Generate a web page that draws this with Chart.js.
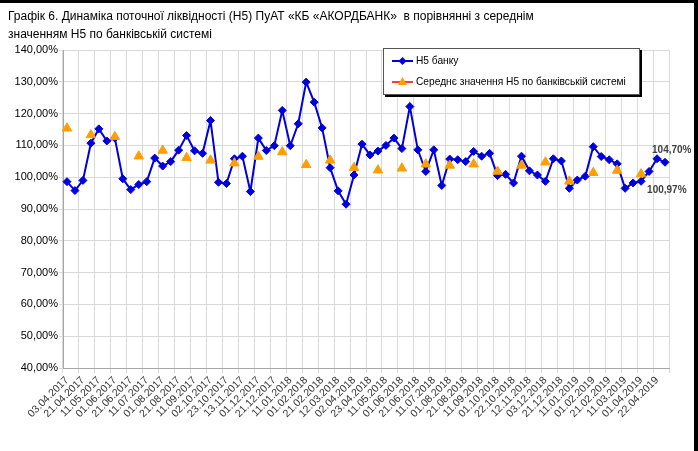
<!DOCTYPE html>
<html>
<head>
<meta charset="utf-8">
<script src="https://cdn.jsdelivr.net/npm/chart.js@4/dist/chart.umd.min.js"></script>
<style>
html, body { margin: 0; padding: 0; background: #fff; }
#grafica { display: block; }
</style>
</head>
<body>
<canvas id="grafica" width="698" height="451"></canvas>
<script>
// datos
var titulo = [
    'Графік 6. Динаміка поточної ліквідності (Н5) ПуАТ «КБ «АКОРДБАНК»  в порівнянні з середнім',
    'значенням Н5 по банківській системі'
]

var fechas = [
    '03.04.2017', '11.04.2017', '21.04.2017', '02.05.2017', '11.05.2017', '22.05.2017',
    '01.06.2017', '12.06.2017', '21.06.2017', '03.07.2017', '11.07.2017', '21.07.2017',
    '01.08.2017', '11.08.2017', '21.08.2017', '01.09.2017', '11.09.2017', '21.09.2017',
    '02.10.2017', '11.10.2017', '23.10.2017', '01.11.2017', '13.11.2017', '21.11.2017',
    '01.12.2017', '11.12.2017', '21.12.2017', '02.01.2018', '11.01.2018', '22.01.2018',
    '01.02.2018', '12.02.2018', '21.02.2018', '01.03.2018', '12.03.2018', '21.03.2018',
    '02.04.2018', '11.04.2018', '23.04.2018', '02.05.2018', '11.05.2018', '21.05.2018',
    '01.06.2018', '11.06.2018', '21.06.2018', '02.07.2018', '11.07.2018', '23.07.2018',
    '01.08.2018', '13.08.2018', '21.08.2018', '03.09.2018', '11.09.2018', '21.09.2018',
    '01.10.2018', '11.10.2018', '22.10.2018', '01.11.2018', '12.11.2018', '21.11.2018',
    '03.12.2018', '11.12.2018', '21.12.2018', '02.01.2019', '11.01.2019', '21.01.2019',
    '01.02.2019', '11.02.2019', '21.02.2019', '01.03.2019', '11.03.2019', '21.03.2019',
    '01.04.2019', '11.04.2019', '22.04.2019', '02.05.2019'
]

var h5Banku = [
    98.6, 95.8, 99.0, 110.7, 115.2, 111.4, 112.3, 99.5, 96.1, 97.7,
    98.6, 106.0, 103.5, 104.9, 108.5, 113.1, 108.3, 107.5, 117.8, 98.4,
    98.0, 105.8, 106.6, 95.5, 112.3, 108.4, 109.9, 121.0, 109.9, 116.8,
    129.9, 123.6, 115.5, 103.0, 95.7, 91.5, 100.7, 110.4, 107.0, 108.2,
    110.0, 112.3, 109.0, 122.2, 108.6, 101.8, 108.6, 97.4, 105.7, 105.5,
    104.9, 108.1, 106.6, 107.5, 100.5, 100.9, 98.2, 106.6, 102.0, 100.7,
    98.7, 105.8, 105.1, 96.5, 99.1, 100.3, 109.6, 106.5, 105.5, 104.2,
    96.5, 98.2, 98.7, 101.8, 105.8, 104.7
]

var fechasSeredni = [
    '03.04.2017', '02.05.2017', '01.06.2017', '03.07.2017', '01.08.2017', '01.09.2017',
    '02.10.2017', '01.11.2017', '01.12.2017', '02.01.2018', '01.02.2018', '01.03.2018',
    '02.04.2018', '02.05.2018', '01.06.2018', '02.07.2018', '01.08.2018', '03.09.2018',
    '01.10.2018', '01.11.2018', '03.12.2018', '02.01.2019', '01.02.2019', '01.03.2019',
    '01.04.2019'
]

var seredniH5 = [
    115.4, 113.3, 112.7, 106.6, 108.4, 106.1, 105.3, 104.4, 106.5, 107.9,
    103.9, 105.3, 103.0, 102.2, 102.8, 104.1, 103.7, 104.1, 101.8, 103.7,
    104.7, 98.7, 101.4, 102.1, 100.97
]

var nombres = ['Н5 банку', 'Середнє значення Н5 по банківській системі']

var yMin = 40
var yMax = 140
var yPaso = 10

var fuente = "'Liberation Sans', Arial, sans-serif"
var azul = '#0000dc'
var naranja = '#ff9e00'
var rojo = '#ff3b3b'

function formatoPct(v){
    return v.toFixed(2).replace('.', ',') + '%'
}

// puntos del promedio por fecha
var puntosSeredni = fechasSeredni.map(function(f, i){
    return { x: f, y: seredniH5[i] }
})

var pluginTitulo = {
    id: 'titulo',
    afterDraw: function(chart){
        var c = chart.ctx
        c.save()
        c.font = '12px ' + fuente
        c.fillStyle = '#000'
        c.textBaseline = 'middle'
        titulo.forEach(function(t, k){
            c.fillText(t, 8, 17 + k * 18)
        })
        // marco negro arriba y a la derecha
        c.fillStyle = '#000'
        c.fillRect(0, 0, 698, 3)
        c.fillRect(694, 0, 4, 451)
        c.restore()
    }
}

var pluginEtiquetas = {
    id: 'etiquetas',
    afterDatasetsDraw: function(chart){
        var c = chart.ctx
        var m0 = chart.getDatasetMeta(0)
        var m1 = chart.getDatasetMeta(1)
        var p0 = m0.data[m0.data.length - 1]
        var p1 = m1.data[m1.data.length - 1]
        c.save()
        c.font = 'bold 10px ' + fuente
        c.fillStyle = '#404040'
        c.textBaseline = 'middle'
        c.fillText(formatoPct(h5Banku[h5Banku.length - 1]), p0.x - 13, p0.y - 12)
        c.fillText(formatoPct(seredniH5[seredniH5.length - 1]), p1.x + 6, p1.y + 16)
        c.restore()
    }
}

var pluginLeyenda = {
    id: 'leyenda',
    afterDraw: function(chart){
        var c = chart.ctx
        var x = 383, y = 48, w = 256, h = 46
        c.save()
        c.fillStyle = '#000'
        c.fillRect(x + 2, y + 2, w + 1, h + 1)
        c.fillStyle = '#fff'
        c.fillRect(x, y, w, h)
        c.strokeStyle = '#555'
        c.lineWidth = 1
        c.strokeRect(x + 0.5, y + 0.5, w, h)

        c.font = '10.2px ' + fuente
        c.textBaseline = 'middle'
        var filas = [y + 13, y + 34]
        // serie 1
        c.strokeStyle = azul
        c.lineWidth = 2
        c.beginPath(); c.moveTo(x + 9, filas[0]); c.lineTo(x + 30, filas[0]); c.stroke()
        c.fillStyle = azul
        c.beginPath()
        c.moveTo(x + 19.5, filas[0] - 4); c.lineTo(x + 23.5, filas[0]); c.lineTo(x + 19.5, filas[0] + 4); c.lineTo(x + 15.5, filas[0])
        c.closePath(); c.fill()
        // serie 2
        c.strokeStyle = rojo
        c.beginPath(); c.moveTo(x + 9, filas[1]); c.lineTo(x + 30, filas[1]); c.stroke()
        c.fillStyle = naranja
        c.beginPath()
        c.moveTo(x + 19.5, filas[1] - 5); c.lineTo(x + 24, filas[1] + 3); c.lineTo(x + 15, filas[1] + 3)
        c.closePath(); c.fill()

        c.fillStyle = '#000'
        c.fillText(nombres[0], x + 33, filas[0])
        c.fillText(nombres[1], x + 33, filas[1])
        c.restore()
    }
}

new Chart('grafica', {
    type: 'line',
    data: {
        labels: fechas,
        datasets: [
            {
                label: nombres[0],
                data: h5Banku,
                borderColor: azul,
                backgroundColor: azul,
                borderWidth: 2,
                pointStyle: 'rectRot',
                pointRadius: 4,
                pointBorderWidth: 1,
                pointBorderColor: azul,
                tension: 0,
                order: 1
            },
            {
                label: nombres[1],
                data: puntosSeredni,
                showLine: false,
                borderColor: rojo,
                backgroundColor: naranja,
                pointBorderColor: naranja,
                pointStyle: 'triangle',
                pointRadius: 5.5,
                pointBorderWidth: 1,
                order: 0
            }
        ]
    },
    options: {
        responsive: false,
        animation: false,
        layout: { padding: { top: 50, right: 29, left: 0, bottom: 0 } },
        plugins: {
            legend: { display: false },
            title: { display: false },
            tooltip: { enabled: false }
        },
        scales: {
            x: {
                offset: true,
                grid: {
                    offset: true,
                    tickLength: 5,
                    color: function(ctx){
                        if (ctx.index === undefined || ctx.index % 2 === 0) return '#d9d9d9'
                        return 'rgba(0,0,0,0)'
                    }
                },
                border: { color: '#a6a6a6' },
                ticks: {
                    autoSkip: false,
                    maxRotation: 45,
                    minRotation: 45,
                    padding: 1,
                    color: '#333',
                    font: { family: fuente, size: 10.5 },
                    callback: function(v, i){
                        return i % 2 === 0 ? this.getLabelForValue(v) : ''
                    }
                },
                afterFit: function(s){ s.height = 83 }
            },
            y: {
                min: yMin,
                max: yMax,
                grid: { color: '#d9d9d9', tickLength: 4 },
                border: { color: '#a6a6a6' },
                ticks: {
                    stepSize: yPaso,
                    padding: 1,
                    color: '#000',
                    font: { family: fuente, size: 11 },
                    callback: function(v){ return formatoPct(v) }
                },
                afterFit: function(s){ s.width = 63 }
            }
        }
    },
    plugins: [pluginTitulo, pluginEtiquetas, pluginLeyenda]
})
</script>
</body>
</html>
